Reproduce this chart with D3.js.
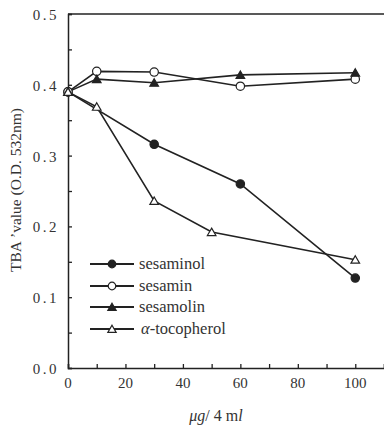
<!DOCTYPE html>
<html><head><meta charset="utf-8">
<script src="https://cdn.jsdelivr.net/npm/d3@7"></script>
<style>body{margin:0;background:#fff}svg{display:block}</style>
</head><body>
<script>
const xTicks = [0,20,40,60,80,100];
const yTicks = [0.0,0.1,0.2,0.3,0.4,0.5];
const seriesNames = ["sesaminol","sesamin","sesamolin","α-tocopherol"];
const sesaminolX = [0,30,60,100], sesaminolY = [0.39,0.316,0.26,0.127];
const sesaminX = [0,10,30,60,100], sesaminY = [0.39,0.419,0.418,0.398,0.408];
const sesamolinX = [0,10,30,60,100], sesamolinY = [0.39,0.408,0.403,0.414,0.417];
const tocoX = [0,10,30,50,100], tocoY = [0.39,0.369,0.236,0.192,0.153];

const W=384,H=425, FF="'Liberation Serif','DejaVu Serif',serif";
const svg=d3.select("body").append("svg").attr("width",W).attr("height",H)
  .attr("font-family",FF);
const x=d3.scaleLinear().domain([0,110]).range([68,384]);
const y=d3.scaleLinear().domain([0,0.5]).range([368,14]);
const ink="#222", txt="#333";

svg.append("line").attr("x1",x(0)).attr("x2",W).attr("y1",y(0.5)).attr("y2",y(0.5)).attr("stroke",ink).attr("stroke-width",1.3);
const xa=svg.append("g").attr("transform",`translate(0,${y(0)})`)
  .call(d3.axisBottom(x).tickValues(d3.range(0,111,10)).tickSize(-4).tickFormat(""));
const ya=svg.append("g").attr("transform",`translate(${x(0)},0)`)
  .call(d3.axisLeft(y).tickValues(d3.range(0,0.51,0.05)).tickSize(-4).tickFormat(""));
[xa,ya].forEach(a=>{a.selectAll("path,line").attr("stroke",ink).attr("stroke-width",1.3);});
svg.selectAll(".domain").attr("stroke-width",1.5);

svg.append("g").selectAll("text").data(xTicks).join("text")
  .attr("font-family",FF).attr("fill",txt)
  .attr("x",d=>x(d)).attr("y",388).attr("text-anchor","middle").attr("font-size",15).text(d=>d);
svg.append("g").selectAll("text").data(yTicks).join("text")
  .attr("font-family",FF).attr("fill",txt)
  .attr("x",59).attr("y",d=>y(d)+6).attr("text-anchor","end").attr("font-size",15)
  .attr("letter-spacing",2.5).text(d=>d.toFixed(1));

svg.append("text").attr("font-family",FF).attr("fill",txt)
  .attr("transform","translate(21,190) rotate(-90)").attr("text-anchor","middle")
  .attr("font-size",15.5).text("TBA ’value (O.D. 532nm)");
const xl=svg.append("text").attr("font-family",FF).attr("fill",txt)
  .attr("x",216).attr("y",421).attr("text-anchor","middle").attr("font-size",16);
xl.append("tspan").attr("font-style","italic").text("μg");
xl.append("tspan").text("/ 4 m");
xl.append("tspan").attr("font-style","italic").text("l");

const line=d3.line().x(d=>x(d[0])).y(d=>y(d[1]));
const series=[
  {xs:sesaminolX,ys:sesaminolY,m:"circle",fill:ink},
  {xs:sesaminX,ys:sesaminY,m:"circle",fill:"#fff"},
  {xs:sesamolinX,ys:sesamolinY,m:"tri",fill:ink},
  {xs:tocoX,ys:tocoY,m:"tri",fill:"#fff"}
];
const circ=d3.symbol().type(d3.symbolCircle).size(55);
const tri=d3.symbol().type(d3.symbolTriangle).size(32);
series.forEach(s=>{
  const pts=s.xs.map((v,i)=>[v,s.ys[i]]);
  svg.append("path").attr("d",line(pts)).attr("fill","none").attr("stroke",ink).attr("stroke-width",1.6);
});
series.forEach(s=>{
  const pts=s.xs.map((v,i)=>[v,s.ys[i]]);
  svg.append("g").selectAll("path").data(pts).join("path")
    .attr("transform",d=>`translate(${x(d[0])},${y(d[1])+(s.m==="tri"?1:0)})`)
    .attr("d",s.m==="circle"?circ:tri).attr("fill",s.fill).attr("stroke",ink).attr("stroke-width",1.2);
});

const ly=[264,286,307,329];
series.forEach((s,i)=>{
  svg.append("line").attr("x1",90).attr("x2",134).attr("y1",ly[i]).attr("y2",ly[i]).attr("stroke",ink).attr("stroke-width",1.8);
  svg.append("path").attr("transform",`translate(112,${ly[i]+(s.m==="tri"?1:0)})`)
    .attr("d",s.m==="circle"?d3.symbol().type(d3.symbolCircle).size(45):d3.symbol().type(d3.symbolTriangle).size(30))
    .attr("fill",s.fill).attr("stroke",ink).attr("stroke-width",1.2);
  const t=svg.append("text").attr("font-family",FF).attr("fill",txt)
    .attr("x",i===3?141:139).attr("y",ly[i]+5).attr("font-size",16.5);
  if(i===3){t.append("tspan").attr("font-style","italic").text("α");t.append("tspan").text("-tocopherol");}
  else t.text(seriesNames[i]);
});
</script>
</body></html>
